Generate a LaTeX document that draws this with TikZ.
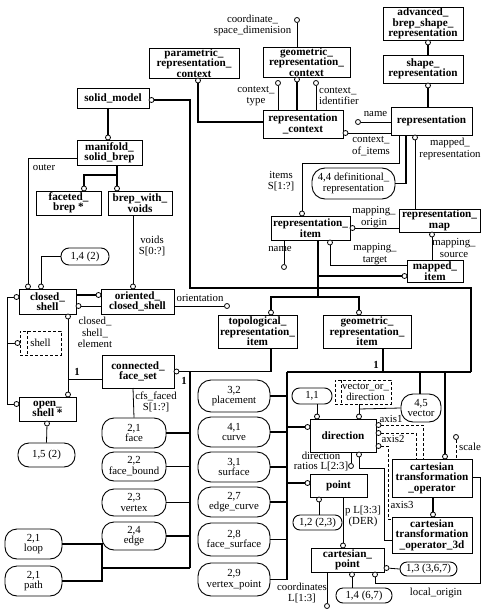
\documentclass[tikz,border=0pt]{standalone}
\usepackage{fontspec}
\setmainfont{Liberation Serif}
\begin{document}
\begin{tikzpicture}[x=1pt,y=-1pt,
 ent/.style={draw, line width=0.9pt, inner sep=0pt, align=center, font=\bfseries\fontsize{11.2}{10.4}\selectfont},
 sel/.style={draw, dash pattern=on 3pt off 2pt, line width=0.8pt, inner sep=0pt, align=center, font=\fontsize{10.8}{11}\selectfont},
 pref/.style={draw, line width=0.9pt, inner sep=0pt, align=center, font=\fontsize{10.8}{10.8}\selectfont},
 lbl/.style={inner sep=0pt, align=center, font=\fontsize{10.8}{11.5}\selectfont},
 circ/.style={circle, draw, fill=white, inner sep=0pt, minimum size=5pt, line width=0.8pt},
 sub/.style={line width=1.5pt},
 att/.style={line width=0.8pt},
 opt/.style={line width=0.8pt, dash pattern=on 3pt off 2pt},
 one/.style={inner sep=0pt, font=\bfseries\fontsize{10.8}{11}\selectfont}
]
\fill[white] (0,0) rectangle (486,615);
\useasboundingbox (0,0) rectangle (486,615);

% ---------- entity boxes ----------
\node[ent, minimum width=90pt, minimum height=30pt] (prc) at (194,63) {parametric\_\\representation\_\\context};
\node[ent, minimum width=87pt, minimum height=30pt] (grc) at (306.5,62) {geometric\_\\representation\_\\context};
\node[ent, minimum width=80pt, minimum height=33pt] (absr) at (423,23.5) {advanced\_\\brep\_shape\_\\representation};
\node[ent, minimum width=80pt, minimum height=28pt] (shr) at (423,69) {shape\_\\representation};
\node[ent, minimum width=80pt, minimum height=28pt] (rc) at (303,124) {representation\\\_context};
\node[ent, minimum width=81pt, minimum height=28pt] (rep) at (431.5,121) {representation};
\node[ent, minimum width=72pt, minimum height=20pt] (sm) at (113,98) {solid\_model};
\node[ent, minimum width=65pt, minimum height=25pt] (msb) at (109.5,152.5) {manifold\_\\solid\_brep};
\node[ent, minimum width=65pt, minimum height=24pt] (fb) at (68.5,203) {faceted\_\\brep *};
\node[ent, minimum width=64pt, minimum height=24pt] (bwv) at (140,203) {brep\_with\_\\voids};
\node[ent, minimum width=57pt, minimum height=25pt] (cs) at (47.5,301.5) {closed\_\\shell};
\node[ent, minimum width=73pt, minimum height=25pt] (ocs) at (137.5,301.5) {oriented\_\\closed\_shell};
\node[sel, minimum width=41pt, minimum height=24pt, text width=30pt, xshift=3pt] (sh) at (37.5,343) {shell};
\draw[opt] (27,331) -- (27,355);
\node[ent, minimum width=57pt, minimum height=24pt] (os) at (47.5,409) {open\_\\shell *};
\node[ent, minimum width=72pt, minimum height=33pt] (cfs) at (138,371.5) {connected\_\\face\_set};
\node[ent, minimum width=79pt, minimum height=24pt] (ri) at (310.5,228) {representation\_\\item};
\node[ent, minimum width=81pt, minimum height=23pt] (rm) at (439.5,220.5) {representation\_\\map};
\node[ent, minimum width=56pt, minimum height=22pt] (mi) at (435,271) {mapped\_\\item};
\node[ent, minimum width=79pt, minimum height=33pt] (tri) at (257.5,331.5) {topological\_\\representation\_\\item};
\node[ent, minimum width=88pt, minimum height=33pt] (gri) at (367,331.5) {geometric\_\\representation\_\\item};
\node[ent, minimum width=66pt, minimum height=33pt] (dir) at (343,435.5) {direction};
\node[sel, minimum width=56pt, minimum height=24pt] (vod) at (363,392) {\hspace*{5pt}vector\_or\_\\\hspace*{5pt}direction};
\draw[opt] (341,380) -- (341,404);
\node[ent, minimum width=57pt, minimum height=23pt] (pt) at (338.5,485.5) {point};
\node[ent, minimum width=73pt, minimum height=24pt] (cp) at (347.5,560) {cartesian\_\\point};
\node[ent, minimum width=80pt, minimum height=38pt] (cto) at (432,478) {cartesian\\transformation\\\_operator};
\node[ent, minimum width=80pt, minimum height=36pt] (cto3) at (432,535) {cartesian\\transformation\\\_operator\_3d};

% ---------- page reference ovals ----------
\node[pref, rounded corners=8pt, minimum width=48pt, minimum height=17pt] (o14a) at (85,256.5) {1,4 (2)};
\node[pref, rounded corners=13pt, minimum width=83pt, minimum height=31pt] (o44) at (353.5,183.5) {4,4 definitional\_\\representation};
\node[pref, rounded corners=11pt, minimum width=57pt, minimum height=24pt] (o15) at (46.5,455) {1,5 (2)};
\node[pref, rounded corners=12pt, minimum width=64pt, minimum height=30pt] (oface) at (134,433) {2,1\\face};
\node[pref, rounded corners=12pt, minimum width=64pt, minimum height=29pt] (ofb) at (134,466.5) {2,2\\face\_bound};
\node[pref, rounded corners=12pt, minimum width=64pt, minimum height=27pt] (over) at (134,502.5) {2,3\\vertex};
\node[pref, rounded corners=12pt, minimum width=64pt, minimum height=28pt] (oedge) at (134,536) {2,4\\edge};
\node[pref, rounded corners=12pt, minimum width=57pt, minimum height=30pt] (oloop) at (33.5,544) {2,1\\loop};
\node[pref, rounded corners=12pt, minimum width=57pt, minimum height=30pt] (opath) at (33.5,581) {2,1\\path};
\node[pref, rounded corners=13pt, minimum width=72pt, minimum height=32pt] (oplace) at (234,396) {3,2\\placement};
\node[pref, rounded corners=13pt, minimum width=72pt, minimum height=30pt] (ocurve) at (234,432) {4,1\\curve};
\node[pref, rounded corners=13pt, minimum width=72pt, minimum height=30pt] (osurf) at (234,467) {3,1\\surface};
\node[pref, rounded corners=13pt, minimum width=72pt, minimum height=30pt] (oec) at (234,502) {2,7\\edge\_curve};
\node[pref, rounded corners=13pt, minimum width=72pt, minimum height=33pt] (ofs) at (234,539.5) {2,8\\face\_surface};
\node[pref, rounded corners=13pt, minimum width=72pt, minimum height=33pt] (ovp) at (234,579.5) {2,9\\vertex\_point};
\node[pref, rounded corners=7.5pt, minimum width=40pt, minimum height=16pt] (o11) at (312,396) {1,1};
\node[pref, rounded corners=12pt, minimum width=40pt, minimum height=28pt] (ovec) at (421,408) {4,5\\vector};
\node[pref, rounded corners=7pt, minimum width=49pt, minimum height=15pt] (o12) at (317.5,522.5) {1,2 (2,3)};
\node[pref, rounded corners=7pt, minimum width=57pt, minimum height=14pt] (o13) at (428.5,569) {1,3 (3,6,7)};
\node[pref, rounded corners=7pt, minimum width=56pt, minimum height=15pt] (o14b) at (364,595.5) {1,4 (6,7)};

% ---------- circles ----------
\node[circ] (k_csd) at (297,20) {};
\node[circ] (k_prc) at (198,80.5) {};
\node[circ] (k_grc) at (297,79.5) {};
\node[circ] (k_ctype) at (278,83) {};
\node[circ] (k_cid) at (316,83) {};
\node[circ] (k_absr) at (428,42.5) {};
\node[circ] (k_shr) at (428,85.5) {};
\node[circ] (k_rname) at (358,122) {};
\node[circ] (k_coi) at (345.5,133) {};
\node[circ] (k_mrep) at (415,137.5) {};
\node[circ] (k_items) at (302,213.5) {};
\node[circ] (k_morig) at (352.5,228) {};
\node[circ] (k_msrc) at (432,234.5) {};
\node[circ] (k_mtgt) at (330,242.5) {};
\node[circ] (k_riname) at (284,267) {};
\node[circ] (k_mi) at (404.5,276) {};
\node[circ] (k_tri) at (271,312.5) {};
\node[circ] (k_gri) at (359,312.5) {};
\node[circ] (k_sm) at (151.5,100) {};
\node[circ] (k_msb) at (108,137.5) {};
\node[circ] (k_fb) at (84,188.5) {};
\node[circ] (k_bwv) at (117,188.5) {};
\node[circ] (k_outer) at (28,286.5) {};
\node[circ] (k_o14) at (41,286.5) {};
\node[circ] (k_voids) at (133,286.5) {};
\node[circ] (k_ocs) at (98.5,295) {};
\node[circ] (k_cse) at (78.5,306) {};
\node[circ] (k_orient) at (227,306) {};
\node[circ] (k_csb) at (68,316.5) {};
\node[circ] (k_osT) at (68,394.5) {};
\node[circ] (k_csL) at (16.5,297) {};
\node[circ] (k_shL) at (17.5,343) {};
\node[circ] (k_osL) at (16.5,404) {};
\node[circ] (k_osB) at (47,423.5) {};
\node[circ] (k_cfs) at (176.5,371.5) {};
\node[circ] (k_dirL) at (307.5,427) {};
\node[circ] (k_ptL) at (307.5,483) {};
\node[circ] (k_d11) at (317,416.5) {};
\node[circ] (k_dvod) at (359,416.5) {};
\node[circ] (k_ax1) at (378.5,425) {};
\node[circ] (k_ax2) at (378.5,433) {};
\node[circ] (k_ax3) at (378.5,446) {};
\node[circ] (k_scale) at (456,437) {};
\node[circ] (k_dirB) at (359,454.5) {};
\node[circ] (k_dr) at (351,466) {};
\node[circ] (k_ptB) at (319,499.5) {};
\node[circ] (k_cpT) at (343,545.5) {};
\node[circ] (k_cpR) at (386.5,568) {};
\node[circ] (k_cpB) at (352,574.5) {};
\node[circ] (k_lo) at (375,574.5) {};
\node[circ] (k_coord) at (327,606) {};
\node[circ] (k_ctoT) at (445,456.5) {};
\node[circ] (k_cto3) at (433,514.5) {};

% ---------- connectors ----------
\draw[att] (k_csd) -- (297,47);
\draw[sub] (k_prc) |- (263,122);
\draw[sub] (k_grc) -- (297,110);
\draw[att] (k_ctype) -- (278,110);
\draw[att] (k_cid) -- (316,110);
\draw[sub] (k_absr) -- (428,55);
\draw[sub] (k_shr) -- (428,107);
\draw[att] (k_rname) -- (391,122);
\draw[att] (k_coi) -- (391,133);
\draw[att] (k_mrep) -- (415,209);
\draw[att] (399,135) |- (302,163) -- (k_items);
\draw[sub] (406,135) |- (o44.east);
\draw[att] (k_morig) -- (399,228);
\draw[att] (k_msrc) -- (432,260);
\draw[att] (k_mtgt) |- (407,265);
\draw[att] (284,240) -- (k_riname);
\draw[sub] (318,240) -- (318,297);
\draw[sub] (318,276) -- (k_mi);
\draw[sub] (k_tri) |- (359,297) -- (k_gri);
\draw[sub] (k_sm) -| (190,288) -- (471,288) -- (471,372);
\draw[sub] (108,108) -- (k_msb);
\draw[sub] (117,165) -- (k_bwv);
\draw[sub] (117,175) -| (k_fb);
\draw[att] (77,158) -| (k_outer);
\draw[att] (o14a.west) -| (k_o14);
\draw[att] (133,215) -- (k_voids);
\draw[sub] (76,295) -- (k_ocs);
\draw[att] (101,306) -- (k_cse);
\draw[att] (174,306) -- (k_orient);
\draw[att] (k_csb) -- (k_osT);
\draw[att] (68,379) -- (102,379);
\draw[att] (k_csL) -| (7,404) -- (k_osL);
\draw[att] (7,343) -- (k_shL);
\draw[att] (k_osB) -- (o15.north);
% topological tree
\draw[sub] (271,348) |- (k_cfs);
\draw[sub] (190,371.5) -- (190,568);
\draw[sub] (oface.east) -- (190,433);
\draw[sub] (ofb.east) -- (190,466.5);
\draw[sub] (over.east) -- (190,502.5);
\draw[sub] (oedge.east) -- (190,536);
\draw[sub] (oloop.east) -- (102,544) -- (102,581) -- (opath.east);
\draw[sub] (102,568) -- (190,568);
\draw[att] (133,388) -- (oface.north);
% geometric tree
\draw[sub] (383,348) -- (383,372);
\draw[sub] (287,372) -- (471,372);
\draw[sub] (287,372) -- (287,579.5);
\draw[sub] (oplace.east) -- (287,396);
\draw[sub] (ocurve.east) -- (287,432);
\draw[sub] (osurf.east) -- (287,467);
\draw[sub] (oec.east) -- (287,502);
\draw[sub] (ofs.east) -- (287,539.5);
\draw[sub] (ovp.east) -- (287,579.5);
\draw[sub] (287,427) -- (k_dirL);
\draw[sub] (287,483) -- (k_ptL);
\draw[sub] (420,372) -- (ovec.north -| 420,0);
\draw[sub] (445,372) -- (k_ctoT);
% direction and friends
\draw[att] (317,404) -- (k_d11);
\draw[att] (359,404) -- (k_dvod);
\draw[att] (359,409) -- (ovec.west);
\draw[opt] (k_ax1) -| (423,459);
\draw[opt] (k_ax2) -| (416,459);
\draw[opt] (k_ax3) -| (388,519) -- (392,519);
\draw[opt] (k_scale) -- (456,459);
\draw[att] (k_dirB) |- (384,468) -- (384,540) -- (392,540);
\draw[att] (351,452) -- (k_dr);
\draw[att] (k_ptB) -- (319,515);
\draw[att] (343,497) -- (k_cpT);
\draw[att] (k_cpR) -- (o13.west);
\draw[att] (k_cpB) -- (352,588);
\draw[att] (k_lo) |- (480,583) |- (472,477);
\draw[att] (327,572) -- (k_coord);
\draw[sub] (433,497) -- (k_cto3);

% ---------- labels ----------
\node[lbl] (l_csd) at (252.5,25.5) {coordinate\_\\space\_dimenision};
\node[lbl] (l_ctype) at (256,96) {context\_\\type};
\node[lbl, align=left, anchor=west] (l_cid) at (319,96) {context\_\\identifier};
\node[lbl] (l_rname) at (375.5,114) {name};
\node[lbl] (l_coi) at (371,146) {context\_\\of\_items};
\node[lbl] (l_mrep) at (450,149) {mapped\_\\representation};
\node[lbl] (l_items) at (281,181) {items\\S[1:?]};
\node[lbl] (l_morig) at (374,217) {mapping\_\\origin};
\node[lbl] (l_msrc) at (454,248) {mapping\_\\source};
\node[lbl] (l_mtgt) at (375,254) {mapping\_\\target};
\node[lbl] (l_riname) at (280,249) {name};
\node[lbl] (l_outer) at (44,168) {outer};
\node[lbl] (l_voids) at (152,246) {voids\\S[0:?]};
\node[lbl] (l_orient) at (200,298) {orientation};
\node[lbl] (l_cse) at (95,332.5) {closed\_\\shell\_\\element};
\node[lbl] (l_cfsf) at (156,402) {cfs\_faced\\S[1:?]};
\node[lbl] (l_ax1) at (391,419) {axis1};
\node[lbl] (l_ax2) at (393,439) {axis2};
\node[lbl] (l_scale) at (470,447) {scale};
\node[lbl] (l_ax3) at (402,505) {axis3};
\node[lbl, font=\fontsize{10.8}{10.5}\selectfont] (l_dr) at (321,461.5) {direction\\ratios L[2:3]};
\node[lbl] (l_p) at (363,516.5) {p L[3:3]\\(DER)};
\node[lbl] (l_coord) at (302,593) {coordinates\\L[1:3]};
\node[lbl] (l_lo) at (436,593) {local\_origin};
\node[one] (one1) at (77,372) {1};
\node[one] (one2) at (184,381) {1};
\node[one] (one3) at (376,365) {1};
\end{tikzpicture}
\end{document}
